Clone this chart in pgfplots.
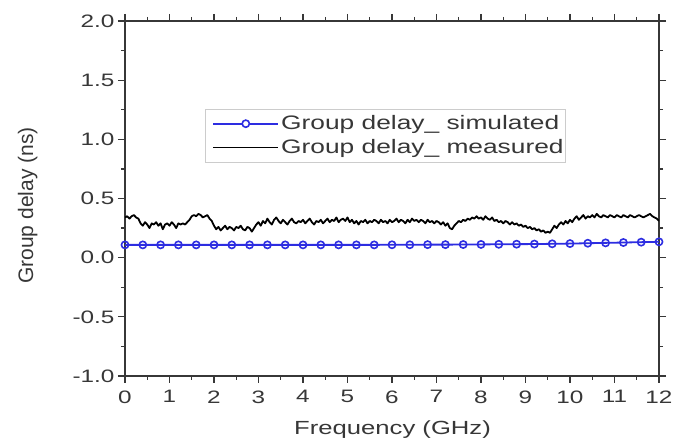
\documentclass[border=0pt]{standalone}
\usepackage{fontspec}
\setmainfont[FakeStretch=1.35]{Liberation Sans}
\newfontfamily\plainfont{Liberation Sans}
\usepackage{pgfplots}
\usepackage{pgfplotstable}
\pgfplotsset{compat=1.18}
\definecolor{simblue}{RGB}{45,45,225}
\definecolor{axgray}{RGB}{55,55,55}
\pgfplotsset{
  simleg/.style={legend image code/.code={\path (0pt,0pt); \draw[simblue, line width=1.8pt] (7pt,0pt) -- (72pt,0pt); \draw[simblue, line width=1.6pt, fill=white] (39.5pt,0pt) circle (3.6pt);}},
  measleg/.style={legend image code/.code={\path (0pt,0pt); \draw[black, line width=1.5pt] (7pt,0pt) -- (72pt,0pt);}},
}

\pgfplotstableread{
x y
0.00 0.34
0.05 0.35
0.10 0.33
0.15 0.35
0.20 0.36
0.25 0.34
0.30 0.33
0.35 0.29
0.40 0.27
0.45 0.30
0.50 0.28
0.55 0.25
0.60 0.29
0.65 0.28
0.70 0.30
0.75 0.27
0.80 0.29
0.85 0.24
0.90 0.28
0.95 0.29
1.00 0.27
1.05 0.30
1.10 0.28
1.15 0.25
1.20 0.29
1.25 0.28
1.30 0.29
1.35 0.28
1.40 0.30
1.45 0.32
1.50 0.35
1.55 0.36
1.60 0.35
1.65 0.37
1.70 0.36
1.75 0.34
1.80 0.35
1.85 0.36
1.90 0.33
1.95 0.31
2.00 0.27
2.05 0.24
2.10 0.26
2.15 0.23
2.20 0.25
2.25 0.27
2.30 0.24
2.35 0.26
2.40 0.25
2.45 0.23
2.50 0.26
2.55 0.25
2.60 0.27
2.65 0.24
2.70 0.23
2.75 0.26
2.80 0.25
2.85 0.22
2.90 0.25
2.95 0.28
3.00 0.30
3.05 0.27
3.10 0.31
3.15 0.29
3.20 0.33
3.25 0.30
3.30 0.28
3.35 0.32
3.40 0.34
3.45 0.31
3.50 0.29
3.55 0.32
3.60 0.30
3.65 0.28
3.70 0.31
3.75 0.33
3.80 0.30
3.85 0.29
3.90 0.31
3.95 0.30
4.00 0.32
4.05 0.29
4.10 0.31
4.15 0.33
4.20 0.30
4.25 0.28
4.30 0.31
4.35 0.30
4.40 0.32
4.45 0.29
4.50 0.31
4.55 0.33
4.60 0.30
4.65 0.32
4.70 0.31
4.75 0.34
4.80 0.30
4.85 0.32
4.90 0.33
4.95 0.31
5.00 0.34
5.05 0.30
5.10 0.32
5.15 0.29
5.20 0.31
5.25 0.28
5.30 0.31
5.35 0.30
5.40 0.32
5.45 0.29
5.50 0.31
5.55 0.30
5.60 0.32
5.65 0.31
5.70 0.29
5.75 0.32
5.80 0.30
5.85 0.31
5.90 0.29
5.95 0.32
6.00 0.30
6.05 0.31
6.10 0.33
6.15 0.30
6.20 0.32
6.25 0.31
6.30 0.29
6.35 0.32
6.40 0.30
6.45 0.33
6.50 0.31
6.55 0.32
6.60 0.30
6.65 0.32
6.70 0.31
6.75 0.29
6.80 0.32
6.85 0.30
6.90 0.31
6.95 0.29
7.00 0.31
7.05 0.30
7.10 0.28
7.15 0.30
7.20 0.27
7.25 0.29
7.30 0.25
7.35 0.24
7.40 0.27
7.45 0.29
7.50 0.31
7.55 0.30
7.60 0.32
7.65 0.31
7.70 0.33
7.75 0.32
7.80 0.34
7.85 0.33
7.90 0.35
7.95 0.33
8.00 0.34
8.05 0.32
8.10 0.35
8.15 0.33
8.20 0.32
8.25 0.34
8.30 0.31
8.35 0.32
8.40 0.30
8.45 0.31
8.50 0.29
8.55 0.31
8.60 0.30
8.65 0.28
8.70 0.30
8.75 0.28
8.80 0.29
8.85 0.27
8.90 0.28
8.95 0.26
9.00 0.27
9.05 0.25
9.10 0.26
9.15 0.24
9.20 0.25
9.25 0.23
9.30 0.24
9.35 0.22
9.40 0.23
9.45 0.21
9.50 0.22
9.55 0.21
9.60 0.24
9.65 0.27
9.70 0.25
9.75 0.28
9.80 0.30
9.85 0.28
9.90 0.31
9.95 0.29
10.00 0.32
10.05 0.30
10.10 0.33
10.15 0.35
10.20 0.32
10.25 0.34
10.30 0.36
10.35 0.33
10.40 0.35
10.45 0.34
10.50 0.36
10.55 0.34
10.60 0.37
10.65 0.35
10.70 0.34
10.75 0.36
10.80 0.35
10.85 0.34
10.90 0.36
10.95 0.35
11.00 0.34
11.05 0.36
11.10 0.35
11.15 0.34
11.20 0.36
11.25 0.35
11.30 0.34
11.35 0.36
11.40 0.35
11.45 0.34
11.50 0.35
11.55 0.36
11.60 0.35
11.65 0.34
11.70 0.35
11.75 0.36
11.80 0.37
11.85 0.35
11.90 0.34
11.95 0.33
12.00 0.31
}\measured

\pgfplotstableread{
x y
0.0 0.108
0.4 0.108
0.8 0.108
1.2 0.108
1.6 0.108
2.0 0.108
2.4 0.108
2.8 0.108
3.2 0.108
3.6 0.108
4.0 0.108
4.4 0.108
4.8 0.108
5.2 0.108
5.6 0.108
6.0 0.109
6.4 0.109
6.8 0.110
7.2 0.110
7.6 0.111
8.0 0.112
8.4 0.113
8.8 0.114
9.2 0.115
9.6 0.117
10.0 0.119
10.4 0.122
10.8 0.125
11.2 0.128
11.6 0.131
12.0 0.134
}\simulated

\begin{document}
\begin{tikzpicture}
\begin{axis}[
  at={(0,0)}, anchor=south west,
  scale only axis, width=534pt, height=355pt,
  xmin=0, xmax=12, ymin=-1, ymax=2,
  xtick={0,1,...,12}, ytick={-1,-0.5,...,2},
  minor x tick num=1, minor y tick num=1,
  tick align=outside, major tick length=7pt, minor tick length=4pt,
  axis line style={axgray, line width=1.5pt},
  tick style={axgray, line width=1.2pt},
  /pgf/number format/assume math mode=true,
  yticklabel style={/pgf/number format/fixed, /pgf/number format/fixed zerofill, /pgf/number format/precision=1,
    font=\fontsize{18}{18}\selectfont, text=axgray},
  xticklabel style={font=\fontsize{18}{18}\selectfont, text=axgray, yshift=-4pt},
  xlabel={Frequency (GHz)}, ylabel={Group delay (ns)},
  xlabel style={at={(rel axis cs:0.501,-0.152)}, anchor=center, font=\fontsize{19}{19}\selectfont, text=axgray},
  ylabel style={at={(rel axis cs:-0.182,0.48)}, anchor=center, font=\plainfont\fontsize{21}{21}\selectfont, text=axgray},
  legend style={at={(axis cs:1.8,1.26)}, anchor=north west, draw=gray!40, line width=0.6pt,
    font=\fontsize{19.5}{22}\selectfont, text=axgray, inner xsep=0pt, inner ysep=6pt, row sep=6pt,
    nodes={inner xsep=2pt, inner ysep=1pt}},
  legend cell align=left,
]
\addplot[simblue, line width=1.8pt, mark=o, mark size=3.6pt,
  mark options={solid, fill=white, line width=1.6pt}, simleg]
  table[x=x, y=y] {\simulated};
\addlegendentry{Group delay\_ simulated}
\addplot[black, line width=1.8pt, line join=round, measleg]
  table[x=x, y=y] {\measured};
\addlegendentry{Group delay\_ measured}
\end{axis}
\pgfresetboundingbox
\path[use as bounding box] (-125pt,-71pt) rectangle (548pt,376pt);
\end{tikzpicture}
\end{document}
